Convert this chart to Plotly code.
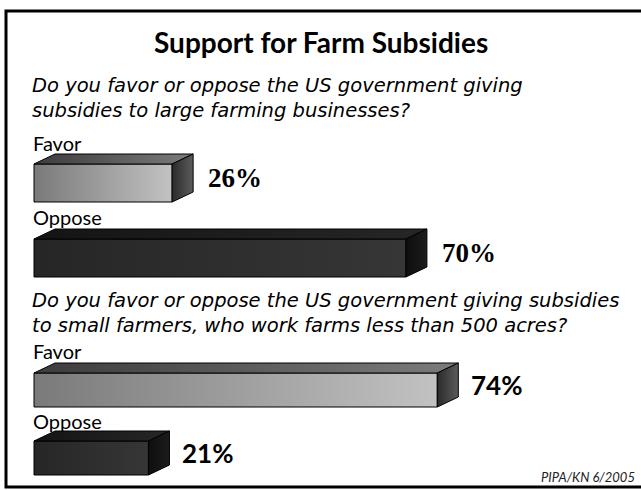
import plotly.graph_objects as go

# ---- data -------------------------------------------------------------
title = "Support for Farm Subsidies"
questions = [
    ["Do you favor or oppose the US government giving",
     "subsidies to large farming businesses?"],
    ["Do you favor or oppose the US government giving subsidies",
     "to small farmers, who work farms less than 500 acres?"],
]
responses = ["Favor", "Oppose"]
large_business = [26, 70]   # percent
small_farmers = [74, 21]    # percent
source = "PIPA/KN 6/2005"

# ---- layout helpers ---------------------------------------------------
W, H = 641, 490
LEFT = 34                      # left edge of the bars, px
SCALE = [5.313, 5.45]          # px per percentage point for each panel
DX_PX, DY = 21, 10             # depth of the 3-D bars

SANS = "Lato, 'Open Sans', sans-serif"
QFONT = "'DejaVu Sans', sans-serif"
SERIF = "'Liberation Serif', 'Times New Roman', serif"

STYLES = {
    "Favor": dict(front=("#7a7a7a", "#c2c2c2"), top=("#3c3c3c", "#7c7c7c"),
                  side=("#2a2a2a", "#5c5c5c")),
    "Oppose": dict(front=("#262626", "#363636"), top=("#141414", "#262626"),
                   side=("#0e0e0e", "#1c1c1c")),
}

# bar rows: (panel, response index, top y px, height px)
ROWS = [(0, 0, 164, 38), (0, 1, 239, 38), (1, 0, 373, 34), (1, 1, 441, 34)]
LABEL_Y = [143, 217, 351, 421]
QUESTION_Y = [[85, 110], [300, 325]]
PANEL_VALUES = [large_business, small_farmers]
PCT_FONT = [dict(family=SERIF, size=27, color="black"),
            dict(family=SANS, size=26, color="black")]
PCT_SHIFT = [13, 11]

fig = go.Figure()


def face(xs, ys, colors, axis):
    fig.add_trace(go.Scatter(
        x=xs + [xs[0]], y=ys + [ys[0]], mode="lines", fill="toself",
        fillgradient=dict(type="horizontal",
                          colorscale=[[0, colors[0]], [1, colors[1]]]),
        line=dict(color="black", width=1), xaxis=axis, yaxis="y",
        hoverinfo="skip", showlegend=False))


annotations = []
for (panel, ri, top, h), ly in zip(ROWS, LABEL_Y):
    v = PANEL_VALUES[panel][ri]
    resp = responses[ri]
    st = STYLES[resp]
    axis = "x" if panel == 0 else "x2"
    dx = DX_PX / SCALE[panel]
    bot = top + h
    # front face
    face([0, v, v, 0], [top, top, bot, bot], st["front"], axis)
    # top face
    face([0, v, v + dx, dx], [top, top, top - DY, top - DY], st["top"], axis)
    # side face
    face([v, v + dx, v + dx, v], [top, top - DY, bot - DY, bot], st["side"], axis)
    # value label
    annotations.append(dict(
        x=v + dx, y=(top - DY + bot) / 2, xref=axis, yref="y",
        text=f"<b>{v}%</b>", showarrow=False, xanchor="left", yanchor="middle",
        xshift=PCT_SHIFT[panel], font=PCT_FONT[panel]))
    # response label
    annotations.append(dict(
        x=LEFT / W, y=ly, xref="paper", yref="y", text=resp, showarrow=False,
        xanchor="left", yanchor="middle", xshift=-3,
        font=dict(family=SANS, size=20, color="black")))

annotations.append(dict(x=0.5, y=42, xref="paper", yref="y",
                        text=f"<b>{title}</b>", showarrow=False,
                        xanchor="center", yanchor="middle",
                        font=dict(family=SANS, size=28, color="black")))
for lines, ys in zip(questions, QUESTION_Y):
    for line, qy in zip(lines, ys):
        annotations.append(dict(x=LEFT / W, y=qy, xref="paper", yref="y",
                                text=f"<i>{line}</i>", showarrow=False,
                                xanchor="left", yanchor="middle", align="left",
                                xshift=-3, borderpad=0,
                                font=dict(family=QFONT, size=19.5, color="black")))
annotations.append(dict(x=637 / W, y=477, xref="paper", yref="y",
                        text=f"<i>{source}</i>", showarrow=False,
                        xanchor="right", yanchor="middle",
                        font=dict(family=SANS, size=13, color="#222")))

# frame (open on the right edge)
shapes = [dict(type="rect", xref="paper", yref="y", x0=6 / W, x1=1.02,
               y0=11, y1=487, line=dict(color="black", width=3), layer="above")]


def xrange(s):
    return [-LEFT / s, (W - LEFT) / s]


fig.update_layout(
    width=W, height=H, margin=dict(l=0, r=0, t=0, b=0),
    paper_bgcolor="white", plot_bgcolor="white",
    xaxis=dict(range=xrange(SCALE[0]), visible=False, domain=[0, 1]),
    xaxis2=dict(range=xrange(SCALE[1]), visible=False, overlaying="x"),
    yaxis=dict(range=[H, 0], visible=False, domain=[0, 1]),
    annotations=annotations, shapes=shapes, showlegend=False,
)

fig.write_html("out.html")
